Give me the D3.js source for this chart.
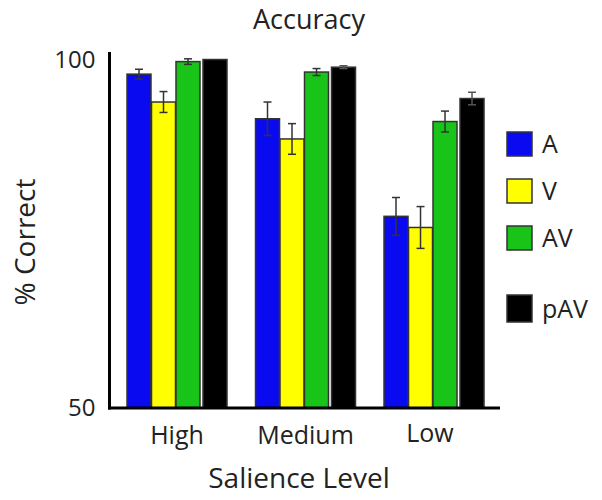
<!DOCTYPE html>
<html>
<head>
<meta charset="utf-8">
<script src="https://cdn.jsdelivr.net/npm/d3@7"></script>
<style>
  body { margin: 0; background: #fff; }
  text { font-family: "Open Sans", "DejaVu Sans", sans-serif; fill: #222; }
</style>
</head>
<body>
<svg width="602" height="500"></svg>
<script>
// Data
const levels = ["High", "Medium", "Low"];
const series = ["A", "V", "AV", "pAV"];
const means = {
  A: [97.9, 91.5, 77.5],
  V: [93.9, 88.6, 75.9],
  AV: [99.7, 98.2, 91.1],
  pAV: [100, 98.9, 94.4]
};
const errs = {
  A: [0.7, 2.4, 2.7],
  V: [1.5, 2.2, 3.0],
  AV: [0.4, 0.5, 1.5],
  pAV: [0, 0.2, 0.9]
};
const yTicks = [50, 100];
const colors = ["#0a0af0", "#ffff00", "#19c419", "#000000"];

const svg = d3.select("svg");

// scales
const yScale = d3.scaleLinear().domain([50, 100]).range([408, 59.5]);
const x0 = d3.scaleBand().domain(levels).range([127, 484]).paddingInner(0.222);
const x1 = d3.scaleOrdinal().domain(series).range([0, 24.5, 49, 76]);
const color = d3.scaleOrdinal().domain(series).range(colors);
const barW = 24;

// flatten for drawing
const rows = [];
levels.forEach((lv, i) => {
  series.forEach((s) => {
    rows.push({ level: lv, s: s, v: means[s][i], e: errs[s][i] });
  });
});

// bars
svg.append("g")
  .selectAll("rect")
  .data(rows)
  .enter()
  .append("rect")
  .attr("x", (d) => x0(d.level) + x1(d.s))
  .attr("y", (d) => yScale(d.v))
  .attr("width", barW)
  .attr("height", (d) => yScale(50) - yScale(d.v))
  .attr("fill", (d) => color(d.s))
  .attr("stroke", "#333")
  .attr("stroke-width", 1.5);

// error bars
const eb = svg.append("g")
  .selectAll("g")
  .data(rows.filter((d) => d.e > 0))
  .enter()
  .append("g")
  .attr("stroke", (d) => (d.s === "pAV" ? "#555" : "#333"))
  .attr("stroke-width", 1.5);
eb.append("line")
  .attr("x1", (d) => x0(d.level) + x1(d.s) + barW / 2)
  .attr("x2", (d) => x0(d.level) + x1(d.s) + barW / 2)
  .attr("y1", (d) => yScale(d.v + d.e))
  .attr("y2", (d) => yScale(d.v - d.e));
[1, -1].forEach((sign) => {
  eb.append("line")
    .attr("x1", (d) => x0(d.level) + x1(d.s) + barW / 2 - 4)
    .attr("x2", (d) => x0(d.level) + x1(d.s) + barW / 2 + 4)
    .attr("y1", (d) => yScale(d.v + sign * d.e))
    .attr("y2", (d) => yScale(d.v + sign * d.e));
});

// y axis
const yAxis = d3.axisLeft(yScale).tickValues(yTicks).tickSize(0).tickPadding(14);
const yg = svg.append("g").attr("transform", "translate(109.5,0)").call(yAxis);
yg.select(".domain").remove();
yg.selectAll("text").attr("font-size", 24).attr("font-family", null).attr("fill", "#222");
svg.append("line")
  .attr("x1", 109.5).attr("x2", 109.5)
  .attr("y1", 52).attr("y2", yScale(50) + 1.5)
  .attr("stroke", "#000").attr("stroke-width", 3);

// x axis
svg.append("line")
  .attr("x1", 108).attr("x2", 500)
  .attr("y1", yScale(50)).attr("y2", yScale(50))
  .attr("stroke", "#000").attr("stroke-width", 3);
const xAxis = d3.axisBottom(x0).tickSize(0).tickPadding(18);
const xg = svg.append("g").attr("transform", `translate(0,${yScale(50)})`).call(xAxis);
xg.select(".domain").remove();
xg.selectAll("text").attr("font-size", 25).attr("font-family", null).attr("fill", "#222");
xg.selectAll(".tick").filter((d) => d === "Low").select("text").attr("dx", -4).attr("y", 16);

// titles
svg.append("text").attr("x", 309).attr("y", 29)
  .attr("text-anchor", "middle").attr("font-size", 27).text("Accuracy");
svg.append("text").attr("x", 299).attr("y", 488)
  .attr("text-anchor", "middle").attr("font-size", 28).text("Salience Level");
svg.append("text")
  .attr("transform", "translate(35,242) rotate(-90)")
  .attr("text-anchor", "middle").attr("font-size", 28).text("% Correct");

// legend
const legY = [132, 179, 226, 295];
const leg = svg.append("g")
  .selectAll("g")
  .data(series)
  .enter()
  .append("g")
  .attr("transform", (d, i) => `translate(507,${legY[i]})`);
leg.append("rect")
  .attr("width", 25).attr("height", (d) => (d === "pAV" ? 27 : 24))
  .attr("fill", (d) => color(d))
  .attr("stroke", "#333").attr("stroke-width", 1.5);
leg.append("text")
  .attr("x", 35).attr("y", (d) => (d === "pAV" ? 23 : 21))
  .attr("font-size", 25)
  .text((d) => d);
</script>
</body>
</html>
